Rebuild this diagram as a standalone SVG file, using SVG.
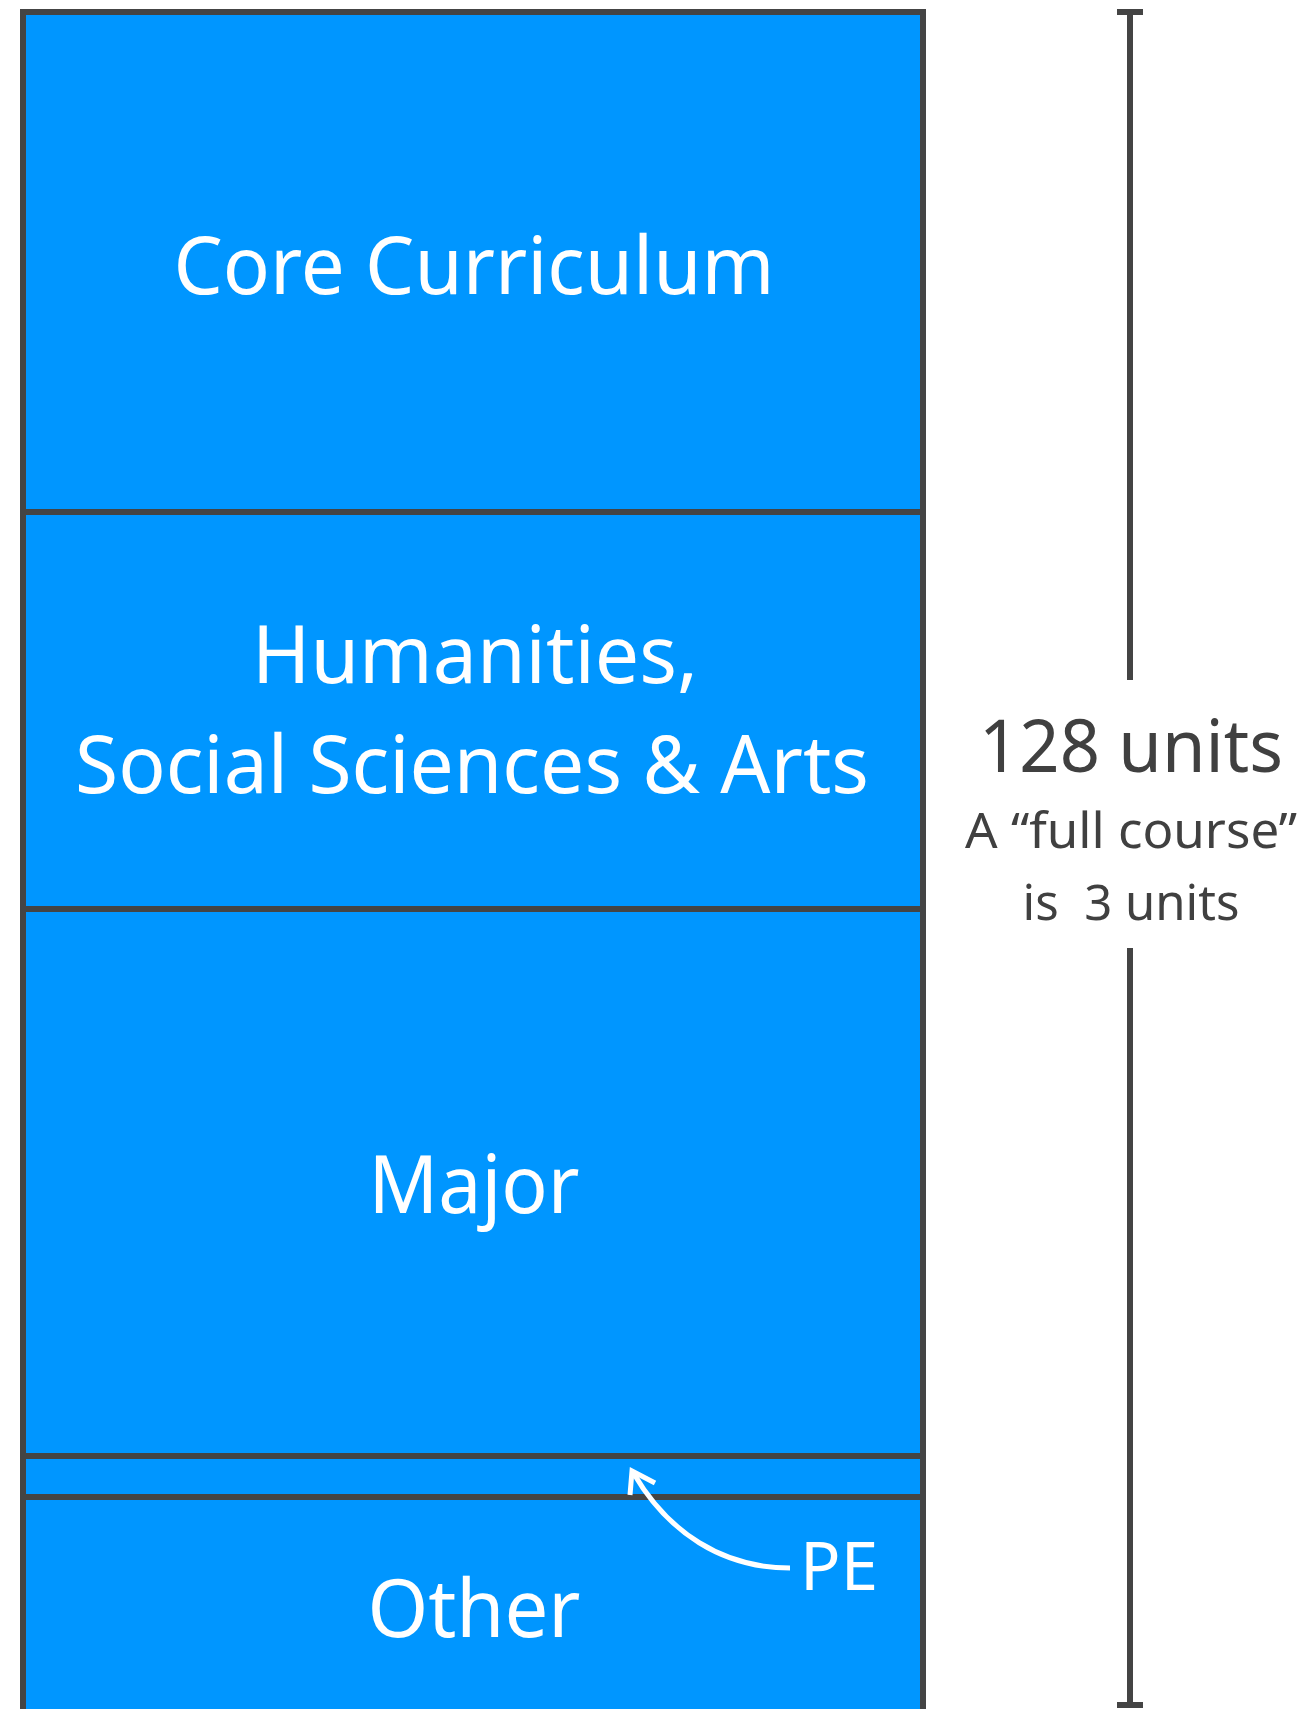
<svg xmlns="http://www.w3.org/2000/svg" width="1307" height="1709" viewBox="0 0 1307 1709">
<defs>
<style>
.lbl{font-family:"Noto Sans","Open Sans","Liberation Sans",sans-serif;fill:#ffffff;font-size:81px;text-anchor:middle}
.side{font-family:"Noto Sans","Open Sans","Liberation Sans",sans-serif;fill:#404040;text-anchor:middle}
.edge{stroke:#444444;stroke-width:6;fill:none}
</style>
</defs>
<g id="column">
<rect x="23" y="12" width="900" height="1720" fill="#0096ff" stroke="#444444" stroke-width="6"/>
</g>
<g id="dividers">
<line class="edge" x1="23" y1="512" x2="923" y2="512"/>
<line class="edge" x1="23" y1="909" x2="923" y2="909"/>
<line class="edge" x1="23" y1="1456" x2="923" y2="1456"/>
<line class="edge" x1="23" y1="1497" x2="923" y2="1497"/>
</g>
<g id="core"><text class="lbl" x="474" y="294" textLength="601" lengthAdjust="spacingAndGlyphs">Core Curriculum</text></g>
<g id="humanities">
<text class="lbl" x="475" y="683" textLength="446" lengthAdjust="spacingAndGlyphs">Humanities,</text>
<text class="lbl" x="472" y="793" textLength="794" lengthAdjust="spacingAndGlyphs">Social Sciences &amp; Arts</text>
</g>
<g id="major"><text class="lbl" x="474" y="1213" textLength="211" lengthAdjust="spacingAndGlyphs">Major</text></g>
<g id="other"><text class="lbl" x="474" y="1637" textLength="213" lengthAdjust="spacingAndGlyphs">Other</text></g>
<g id="pe">
<text x="800" y="1590" font-family="Noto Sans, Open Sans, sans-serif" font-size="67" fill="#ffffff" textLength="78" lengthAdjust="spacingAndGlyphs">PE</text>
</g>
<g id="connectors">
<path d="M790 1568 C722 1568 668 1532 634 1474" fill="none" stroke="#ffffff" stroke-width="5"/>
<polyline points="630,1495 632,1471 655,1483" fill="none" stroke="#ffffff" stroke-width="5" stroke-linejoin="miter"/>
</g>
<g id="measure">
<line class="edge" x1="1130" y1="12" x2="1130" y2="680"/>
<line class="edge" x1="1130" y1="948" x2="1130" y2="1705"/>
<line class="edge" x1="1117" y1="12" x2="1143" y2="12"/>
<line class="edge" x1="1117" y1="1705" x2="1143" y2="1705"/>
<text class="side" x="1131" y="772" font-size="73" textLength="304" lengthAdjust="spacingAndGlyphs">128 units</text>
<text class="side" x="1131" y="848" font-size="49" textLength="332" lengthAdjust="spacingAndGlyphs">A “full course”</text>
<text class="side" x="1131" y="920" font-size="49" textLength="217" lengthAdjust="spacingAndGlyphs" xml:space="preserve">is  3 units</text>
</g>
</svg>
